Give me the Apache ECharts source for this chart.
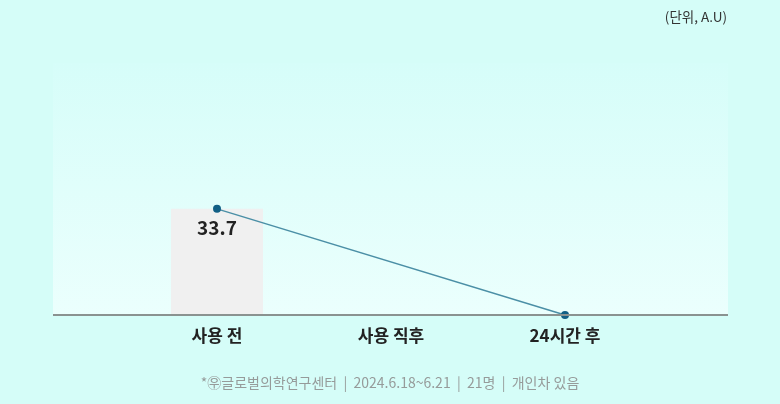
<!DOCTYPE html>
<html><head><meta charset="utf-8">
<script src="https://cdn.jsdelivr.net/npm/echarts@6/dist/echarts.min.js"></script>
<style>html,body{margin:0;padding:0;background:#d5fdf8;}#c{width:780px;height:404px;}</style>
</head><body><div id="c"></div>
<script>
const categories = ['사용 전', '사용 직후', '24시간 후'];
const barValues = [33.7, null, null];
const lineValues = [33.7, null, 0];
const labelValues = ['33.7', '', ''];
const unitText = '(단위, A.U)';
const footnote = '*㉾글로벌의학연구센터  |  2024.6.18~6.21  |  21명  |  개인차 있음';
const FONT = '"Noto Sans CJK KR", "Noto Sans", sans-serif';

const chart = echarts.init(document.getElementById('c'), null, {renderer: 'canvas'});
chart.setOption({
  backgroundColor: '#d5fdf8',
  animation: false,
  textStyle: {fontFamily: FONT},
  graphic: [
    {type: 'rect', z: -10, shape: {x: 53, y: 63, width: 675, height: 252},
     style: {fill: new echarts.graphic.LinearGradient(0, 0, 0, 1, [
       {offset: 0, color: '#d6fdf9'}, {offset: 1, color: '#ebfffd'}])}},
    {type: 'line', z: 10, shape: {x1: 53, y1: 315, x2: 728, y2: 315},
     style: {stroke: '#8a9290', lineWidth: 2}},
    {type: 'text', right: 53, top: 10, style: {text: unitText, font: '13.5px ' + FONT, fill: '#333'}},
    {type: 'text', left: 'center', top: 376, style: {text: footnote, font: '14px ' + FONT, fill: '#969b9a'}}
  ],
  grid: {left: 130, right: 128, top: 63, bottom: 89},
  xAxis: {
    type: 'category', data: categories, boundaryGap: true,
    axisLine: {show: false}, axisTick: {show: false},
    axisLabel: {color: '#222', fontSize: 17, fontWeight: 'bold', margin: 12, fontFamily: FONT}
  },
  yAxis: {type: 'value', min: 0, max: 80, show: false, splitLine: {show: false}},
  series: [
    {type: 'bar', data: barValues, barWidth: 92, itemStyle: {color: '#f0f0f0'}, z: 1, silent: true},
    {type: 'line', data: lineValues, connectNulls: true, symbol: 'circle', symbolSize: 8,
     lineStyle: {color: '#4b8fa6', width: 1.5}, itemStyle: {color: '#115f85'}, z: 5,
     label: {show: true, position: 'bottom', distance: 5, color: '#222', fontSize: 19, fontWeight: 600,
       fontFamily: FONT, formatter: p => labelValues[p.dataIndex]}}
  ]
});
</script></body></html>
